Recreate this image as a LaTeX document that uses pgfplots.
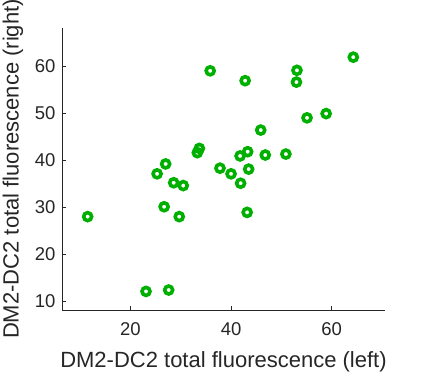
\documentclass[border=0pt]{standalone}
\usepackage{pgfplots}
\pgfplotsset{compat=1.18}
\usepackage{fontspec}
\setmainfont{Liberation Sans}
\definecolor{mgreen}{RGB}{0,176,0}
\definecolor{mtext}{RGB}{38,38,38}
\begin{document}
\begin{tikzpicture}
\path[use as bounding box] (-62bp,-63bp) rectangle (364bp,310bp);
\begin{axis}[
  at={(0,0)}, anchor=south west,
  scale only axis,
  width=323bp, height=282bp,
  xmin=6.4, xmax=70.6, ymin=8.15, ymax=68.1,
  axis x line*=bottom, axis y line*=left,
  axis line style={mtext, line width=0.6pt},
  xtick={20,40,60}, ytick={10,20,30,40,50,60},
  tick align=inside, major tick length=4bp,
  tick style={mtext, line width=0.6pt},
  /pgf/number format/assume math mode=true,
  ticklabel style={font=\fontsize{18.5bp}{20bp}\selectfont, text=mtext},
  xticklabel style={yshift=-9.5bp},
  yticklabel style={xshift=-3bp},
  label style={font=\fontsize{22bp}{24bp}\selectfont, text=mtext},
  xlabel={DM2-DC2 total fluorescence (left)},
  ylabel={DM2-DC2 total fluorescence (right)},
  xlabel style={at={(axis description cs:0.5,-0.182)}, anchor=center},
  ylabel style={at={(axis description cs:-0.152,0.5)}, anchor=center},
  clip=false,
]
\addplot[only marks, mark=o, mark size=4bp, mark options={draw=mgreen, line width=3.6bp}] coordinates {
(35.85,59.0) (42.8,56.9) (53.1,59.1) (53.0,56.6) (64.3,61.9)
(55.1,49.0) (58.9,49.9) (45.9,46.4) (33.7,42.5) (33.3,41.6)
(43.3,41.8) (41.8,40.9) (46.8,41.1) (50.9,41.3) (27.0,39.2)
(25.3,37.1) (37.8,38.3) (40.0,37.1) (43.5,38.1) (41.9,35.1)
(28.6,35.2) (30.5,34.6) (26.7,30.1) (29.7,28.0) (43.2,28.9)
(11.5,28.0) (23.1,12.1) (27.6,12.4)
};
\end{axis}
\end{tikzpicture}
\end{document}
